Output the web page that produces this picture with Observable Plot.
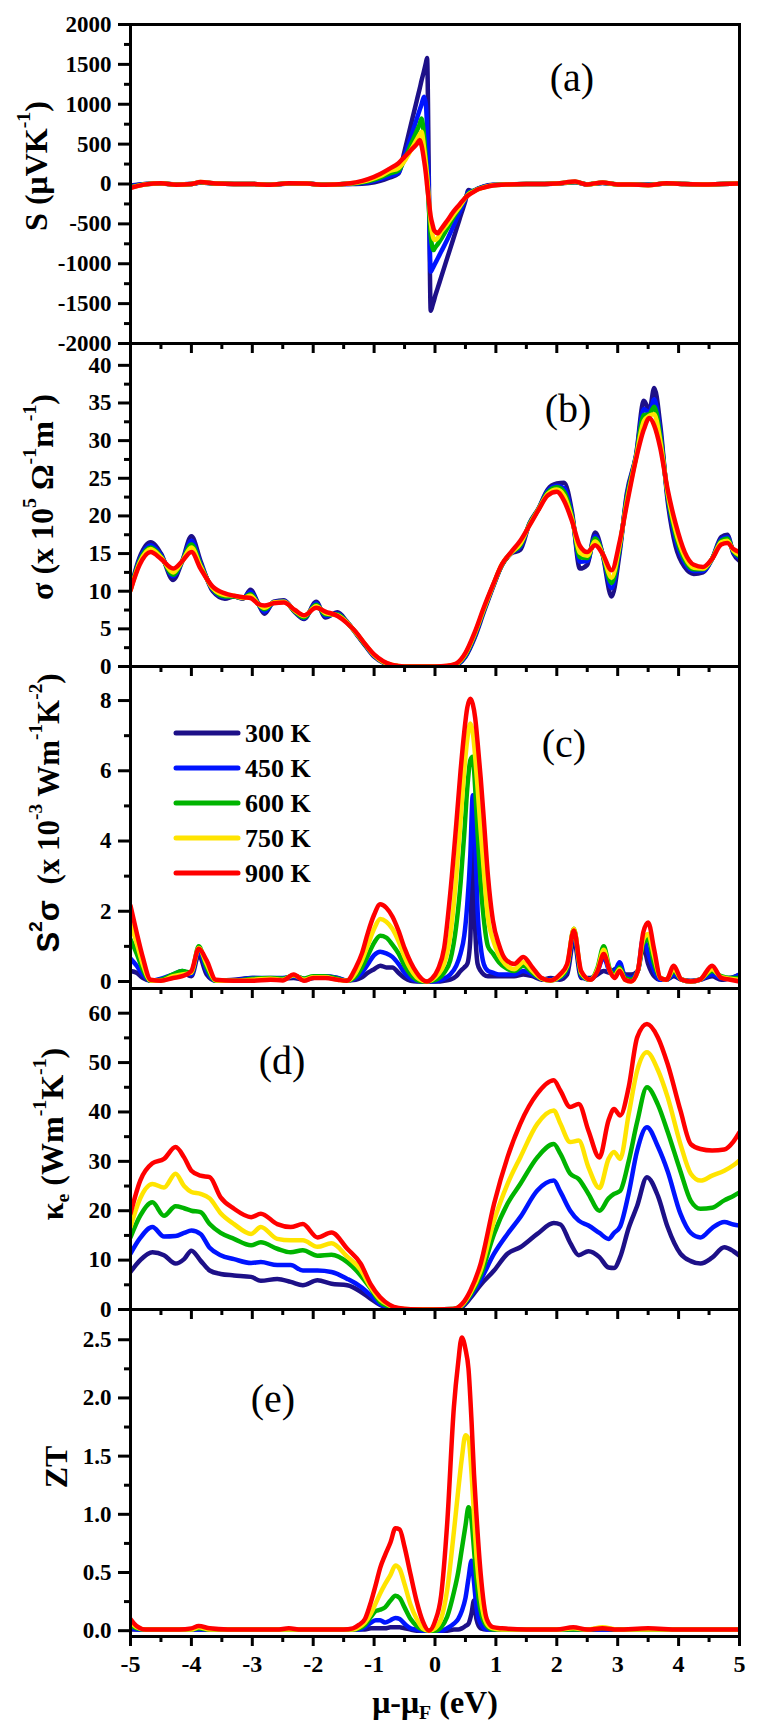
<!DOCTYPE html>
<html><head><meta charset="utf-8">
<script src="https://cdn.jsdelivr.net/npm/d3@7"></script>
<script src="https://cdn.jsdelivr.net/npm/@observablehq/plot@0.6"></script>
<style>
html,body{margin:0;padding:0;background:#fff;}
#chart{position:relative;width:761px;height:1730px;overflow:hidden;background:#fff;}
#chart svg{position:absolute;left:0;top:0;overflow:visible;background:transparent;}
</style></head><body><div id="chart"></div>
<script>
// ---------- series ----------
const temps = ["300 K","450 K","600 K","750 K","900 K"];
const colors = ["#1d1088","#0014ff","#00b400","#ffe400","#ff0000"];

// (a) Seebeck coefficient S (µV/K)
const xa = [-5,-4.75,-4.5,-4.25,-4,-3.85,-3.6,-3.3,-3,-2.7,-2.4,-2.1,-1.8,-1.5,-1.3,-1.1,-0.9,-0.75,-0.6,-0.5,-0.4,-0.3,-0.25,-0.22,-0.18,-0.15,-0.13,-0.1,-0.07,-0.04,-0.02,0,0.04,0.1,0.2,0.3,0.4,0.5,0.55,0.62,0.7,0.8,0.95,1.2,1.5,1.8,2,2.3,2.5,2.75,3,3.2,3.5,3.8,4.1,4.4,4.7,5];
const a300 = [-20,0,5,-5,0,18,5,0,0,-10,6,5,-10,0,0,10,
  40,80,130,414,730,1045,1200,1300,1420,1517,1580,0,-1590,-1520,-1470,-1412,-1315,-1171,-930,-689,-448,-207,-75,-95,-60,-30,
  -10,-5,0,0,5,22,-5,14,-5,-5,-8,5,0,-5,0,5];
const a450 = [-30,0,8,-6,0,20,5,0,0,-10,8,5,-10,0,5,20,
  60,100,140,349,582,815,932,1000,1095,1000,700,-200,-1100,-1060,-1030,-1000,-940,-850,-700,-530,-360,-180,-100,-85,-60,-35,
  -12,-5,0,0,5,24,-5,15,-5,-5,-10,6,0,-5,0,5];
const a600 = [-40,-2,10,-8,0,22,5,0,0,-10,10,5,-10,0,10,35,
  80,130,170,308,486,664,753,820,600,300,100,-300,-650,-800,-828,-800,-760,-690,-560,-420,-300,-170,-120,-90,-65,-40,
  -14,-5,0,0,5,26,-5,16,-5,-5,-12,8,0,-5,0,5];
const a750 = [-45,-3,10,-10,0,25,5,0,0,-10,10,5,-10,0,15,45,
  100,160,200,290,420,557,625,655,450,250,100,-200,-480,-640,-690,-702,-680,-600,-500,-390,-290,-175,-130,-100,-68,-42,
  -15,-5,0,0,5,28,-5,18,-5,-5,-15,10,0,-5,0,5];
const a900 = [-50,-5,10,-10,0,25,5,0,0,-10,10,5,-10,0,20,60,
  125,190,260,340,420,500,552,480,300,130,-20,-220,-410,-510,-570,-595,-618,-565,-460,-350,-260,-170,-140,-105,-70,-45,
  -18,-5,0,0,5,30,-5,20,-5,-5,-15,10,0,-5,0,5];

// (b) electrical conductivity sigma (x10^5 1/(Ohm m))
const xb = [-5,-4.85,-4.67,-4.5,-4.3,-4.15,-4,-3.85,-3.65,-3.45,-3.3,-3.15,-3.03,-2.9,-2.8,-2.65,-2.48,-2.3,-2.15,-1.95,-1.8,-1.6,-1.45,-1.3,-1.15,-1,-0.85,-0.7,-0.5,-0.3,0,0.2,0.35,0.5,0.65,0.8,0.95,1.1,1.25,1.4,1.55,1.7,1.85,2,2.12,2.25,2.38,2.5,2.63,2.75,2.9,3.03,3.15,3.3,3.43,3.52,3.6,3.7,3.82,3.95,4.1,4.25,4.4,4.55,4.7,4.8,4.9,5];
const b300 = [10.3,14.5,16.5,15.0,11.5, 14.0,17.3,14.0,10.0,9.0, 9.3,9.0,10.2,8.3,7.0, 8.6,8.8,7.2,6.3,8.6, 6.5,7.2,6.0,4.4,2.8, 1.3,0.5,0.1,0,0, 0,0,0.2,1.3,3.8, 7.2,10.5,13.5,15.0,15.5, 19.0,21.0,23.5,24.3,24.4, 20.5,13.0,13.5,17.8,15.0, 9.3,15.0,23.0,28.0,35.3, 34.0,37.0,32.0,22.0,16.0, 13.2,12.3,12.5,14.3,17.2, 17.5,15.0,14.0];
const b450 = [10.2,14.2,16.1,14.8,12.0, 14.0,16.7,13.7,10.2,9.2, 9.3,9.1,9.9,8.3,7.3, 8.5,8.7,7.3,6.4,8.4, 6.7,7.0,5.9,4.5,2.9, 1.4,0.6,0.1,0,0, 0,0.02,0.25,1.4,4.0, 7.4,10.6,13.5,15.1,15.9, 18.9,20.9,23.3,24.0,23.7, 20.1,13.9,14.0,17.3,15.0, 10.4,15.5,22.6,27.9,34.2, 33.7,35.5,31.1,22.5,16.9, 13.8,12.7,12.7,14.3,16.9, 17.2,15.2,14.4];
const b600 = [10.2,14.0,15.8,14.6,12.2, 14.0,16.2,13.5,10.3,9.3, 9.3,9.1,9.6,8.3,7.6, 8.5,8.6,7.3,6.5,8.2, 6.9,6.9,5.9,4.5,2.9, 1.5,0.6,0.15,0,0, 0,0.05,0.3,1.55,4.2, 7.5,10.7,13.5,15.1,16.1, 18.9,20.9,23.1,23.8,23.2, 19.9,14.5,14.4,17.0,15.0, 11.1,15.8,22.3,27.8,33.4, 33.5,34.5,30.5,22.8,17.5, 14.2,12.9,12.9,14.3,16.7, 17.0,15.3,14.6];
const b750 = [10.1,13.8,15.6,14.5,12.5, 14.0,15.8,13.3,10.4,9.5, 9.4,9.1,9.4,8.3,7.8, 8.5,8.6,7.4,6.7,8.0, 7.1,6.8,5.9,4.5,3.0, 1.5,0.6,0.2,0,0, 0,0.08,0.35,1.7,4.3, 7.6,10.7,13.6,15.1,16.3, 18.8,20.9,22.9,23.5,22.7, 19.6,15.1,14.7,16.6,15.0, 11.8,16.1,21.9,27.7,32.6, 33.3,33.5,29.9,23.1,18.1, 14.6,13.1,13.0,14.3,16.5, 16.7,15.4,14.8];
const b900 = [10.1,13.5,15.2,14.3,13.0, 14.0,15.2,13.0,10.6,9.7, 9.4,9.2,9.1,8.3,8.1, 8.4,8.5,7.5,6.8,7.8, 7.3,6.7,5.8,4.6,3.0, 1.6,0.7,0.2,0,0, 0,0.1,0.4,1.8,4.5, 7.8,10.8,13.6,15.2,16.7, 18.7,20.8,22.7,23.2,22.0, 19.3,16.0,15.2,16.1,15.0, 12.8,16.5,21.5,27.5,31.5, 33.0,32.0,29.0,23.5,19.0, 15.2,13.5,13.2,14.3,16.2, 16.4,15.6,15.2];

// (c) power factor S^2 sigma (x10^-3 W/(m K^2))
const xc = [-5,-4.9,-4.8,-4.67,-4.5,-4.3,-4.15,-4,-3.88,-3.75,-3.6,-3.3,-3,-2.7,-2.5,-2.32,-2.15,-2,-1.8,-1.6,-1.45,-1.3,-1.2,-1.1,-1,-0.9,-0.8,-0.7,-0.6,-0.5,-0.4,-0.3,-0.2,-0.13,-0.05,0.05,0.15,0.25,0.35,0.42,0.48,0.53,0.58,0.62,0.66,0.7,0.75,0.8,0.87,0.95,1.05,1.15,1.3,1.45,1.6,1.75,1.9,2.05,2.17,2.28,2.4,2.55,2.67,2.77,2.87,2.95,3.03,3.12,3.22,3.33,3.42,3.5,3.6,3.7,3.8,3.92,4.05,4.2,4.35,4.55,4.7,4.85,5];
const c300 = [0.3,0.25,0.1,0.02,0.05, 0.15,0.25,0.15,0.75,0.2, 0.02,0.05,0.1,0.08,0.08, 0.1,0.05,0.1,0.15,0.1, 0.03,0.05,0.12,0.25,0.35, 0.45,0.4,0.4,0.25,0.1, 0.02,0,0,0,0, 0,0.02,0.05,0.15,0.3, 0.4,0.5,1.2,3.9,1.5, 0.5,0.3,0.2,0.15,0.15, 0.15,0.15,0.15,0.2,0.15, 0.05,0.1,0.05,0.2,1.2, 0.1,0.1,0.2,0.3,0.25, 0.35,0.4,0.2,0.2,0.3, 1.0,0.5,0.15,0.05,0.05, 0.15,0.05,0.02,0.05,0.15, 0.05,0.1,0.2];
const c450 = [0.65,0.45,0.2,0.02,0.08, 0.2,0.3,0.2,0.9,0.3, 0.02,0.03,0.1,0.1,0.1, 0.15,0.08,0.12,0.15,0.1, 0.03,0.1,0.25,0.5,0.75, 0.85,0.8,0.7,0.5,0.25, 0.08,0.02,0,0,0, 0.02,0.08,0.2,0.45,0.8, 1.3,2.2,3.6,5.3,4.0, 2.0,1.0,0.5,0.3,0.25, 0.2,0.2,0.2,0.3,0.2, 0.08,0.05,0.1,0.35,1.35, 0.15,0.05,0.3,0.7,0.3, 0.3,0.55,0.15,0.1,0.3, 1.25,0.8,0.3,0.05,0.05, 0.2,0.05,0,0.05,0.2, 0.1,0.1,0.2];
const c600 = [1.2,0.8,0.35,0.02,0.05, 0.2,0.3,0.25,1.0,0.4, 0.02,0.02,0.08,0.1,0.08, 0.17,0.08,0.15,0.15,0.08, 0.02,0.15,0.4,0.75,1.1, 1.3,1.25,1.05,0.8,0.45, 0.2,0.05,0,0,0.02, 0.08,0.25,0.6,1.6,2.8, 4.2,5.5,6.3,6.4,5.5, 4.2,2.8,1.8,1.0,0.8, 0.55,0.4,0.3,0.45,0.25, 0.08,0.03,0.12,0.4,1.5, 0.2,0.05,0.4,1.0,0.35, 0.2,0.4,0.1,0.05,0.3, 1.1,1.2,0.5,0.1,0.05, 0.3,0.05,0,0.05,0.3, 0.15,0.1,0.1];
const c750 = [1.65,1.1,0.5,0.03,0.02, 0.15,0.2,0.25,0.95,0.5, 0.03,0.02,0.05,0.08,0.05, 0.18,0.05,0.12,0.12,0.05, 0.02,0.25,0.6,1.05,1.5, 1.78,1.7,1.5,1.15,0.7, 0.35,0.12,0.02,0,0.05, 0.2,0.5,1.3,3.0,4.6, 6.0,6.9,7.35,7.1,6.4, 5.5,4.3,3.2,1.8,1.2, 0.75,0.5,0.35,0.55,0.3, 0.08,0.03,0.15,0.45,1.5, 0.25,0.05,0.35,0.9,0.3, 0.15,0.35,0.05,0,0.3, 1.2,1.35,0.7,0.1,0.05, 0.35,0.05,0,0.05,0.35, 0.12,0.08,0.05];
const c900 = [2.16,1.4,0.7,0.05,0.02, 0.1,0.15,0.3,0.93,0.6, 0.05,0.02,0.02,0.05,0.03, 0.2,0.02,0.1,0.1,0.05, 0.02,0.4,0.8,1.4,1.9, 2.2,2.1,1.85,1.45,0.95, 0.55,0.25,0.05,0,0.08, 0.35,0.95,2.5,4.5,6.0, 7.1,7.8,8.05,7.9,7.5, 6.8,5.8,4.66,3.0,1.75, 1.05,0.65,0.5,0.7,0.4, 0.1,0.03,0.2,0.5,1.45, 0.3,0.05,0.3,0.78,0.3, 0.1,0.3,0.05,0,0.3, 1.4,1.68,0.9,0.1,0.05, 0.45,0.05,0,0.05,0.45, 0.1,0.05,0];

// (d) electronic thermal conductivity kappa_e (W/(m K))
const xd = [-5,-4.84,-4.64,-4.45,-4.26,-4.12,-4,-3.85,-3.7,-3.52,-3.3,-3.02,-2.86,-2.59,-2.37,-2.17,-1.93,-1.7,-1.44,-1.22,-1.06,-0.9,-0.75,-0.6,-0.4,0,0.3,0.45,0.58,0.75,0.97,1.19,1.4,1.68,1.95,2.06,2.22,2.36,2.52,2.7,2.85,2.94,3.04,3.18,3.32,3.48,3.66,3.82,4.03,4.2,4.36,4.55,4.75,4.9,5];
const d300 = [7.6,10.0,11.6,11.0,9.3, 10.2,11.9,9.9,7.9,7.2, 6.9,6.6,5.8,6.2,5.6, 4.9,5.9,5.2,4.9,3.6, 2.2,0.9,0.3,0.05,0, 0,0.05,0.6,2.3,5.0, 7.9,11.3,12.6,15.3,17.5, 17.2,13.5,11.0,11.8,10.6, 8.5,8.4,10.6,16.5,21.0, 26.8,23.0,16.7,11.3,9.8, 9.3,10.5,12.6,11.8,10.9];
const d450 = [11.3,14.5,16.7,14.8,14.9, 15.5,16.0,15.3,12.5,11.0, 10.2,9.4,9.6,9.0,9.0, 7.9,7.9,7.6,6.2,4.6, 2.9,1.1,0.4,0.1,0.02, 0,0.08,0.8,2.7,6.0, 11.3,15.3,18.7,24.1,26.1, 23.8,20.0,18.0,17.0,15.5, 14.3,15.5,16.8,23.5,32.2, 36.9,33.0,28.0,19.4,15.5, 14.6,16.5,17.7,17.2,17.0];
const d600 = [14.6,19.0,21.7,19.0,20.9, 20.5,20.0,19.7,17.3,15.5, 14.3,13.0,13.6,12.3,11.6, 12.0,10.9,11.1,9.6,6.9, 4.3,1.5,0.6,0.15,0.02, 0,0.1,0.9,3.0,7.0, 15.3,21.4,25.4,30.8,33.5, 31.5,27.5,26.4,23.4,20.0, 22.5,23.4,24.0,30.0,38.0, 45.0,41.5,36.0,28.0,22.0, 20.4,20.6,22.1,23.0,23.7];
const d750 = [16.7,22.5,25.4,24.7,27.5, 25.0,23.8,23.4,22.5,19.5, 17.3,15.3,16.7,14.3,14.0, 14.0,12.7,13.4,10.7,8.0, 4.6,2.0,0.8,0.2,0.03, 0,0.1,1.0,3.3,7.9, 18.0,25.4,30.8,37.6,40.3, 37.6,33.9,34.2,28.8,24.6, 30.5,31.9,30.5,39.5,48.4, 52.1,48.5,43.0,33.5,27.5, 26.1,27.1,28.1,29.2,30.2];
const d900 = [19.4,26.1,29.6,30.5,32.9, 30.8,28.1,27.1,26.8,22.7, 20.4,18.7,19.4,17.3,16.7, 17.3,14.6,15.6,12.3,9.3, 5.2,2.5,1.0,0.3,0.05, 0,0.1,1.2,3.8,9.3, 21.4,30.8,37.6,43.7,46.4, 44.3,41.0,41.6,36.2,30.8, 38.3,40.6,39.3,45.0,55.1, 57.8,55.1,49.7,40.3,33.5, 32.5,32.2,32.4,34.0,35.9];

// (e) figure of merit ZT
const xe = [-5,-4.9,-4.75,-4.5,-4.2,-4,-3.88,-3.7,-3.4,-3,-2.6,-2.4,-2.2,-1.8,-1.5,-1.35,-1.25,-1.15,-1.05,-0.97,-0.9,-0.82,-0.73,-0.65,-0.58,-0.5,-0.4,-0.3,-0.2,-0.1,0,0.1,0.2,0.31,0.38,0.44,0.5,0.55,0.6,0.64,0.68,0.75,0.85,0.95,1.1,1.5,2,2.27,2.5,2.75,3,3.5,4,4.5,5];
const e300 = [0.01,0.01,0.01,0.01,0.01, 0.01,0.01,0.01,0.01,0.01, 0.01,0.01,0.01,0.01,0.01, 0.01,0.01,0.01,0.02,0.02, 0.02,0.02,0.03,0.03,0.03, 0.02,0.01,0,0,0, 0,0,0,0.01,0.01, 0.02,0.04,0.06,0.15,0.26, 0.1,0.02,0.01,0.01,0.01, 0.01,0.01,0.01,0.01,0.01, 0.01,0.01,0.01,0.01,0.01];
const e450 = [0.03,0.01,0.01,0.01,0.01, 0.01,0.01,0.01,0.01,0.01, 0.01,0.01,0.01,0.01,0.01, 0.01,0.01,0.03,0.07,0.09, 0.09,0.07,0.09,0.11,0.1, 0.06,0.02,0.01,0,0, 0,0,0.02,0.06,0.1, 0.17,0.28,0.45,0.6,0.42, 0.2,0.06,0.01,0.01,0.01, 0.01,0.01,0.01,0.01,0.01, 0.01,0.01,0.01,0.01,0.01];
const e600 = [0.05,0.02,0.01,0.01,0.01, 0.01,0.02,0.01,0.01,0.01, 0.01,0.01,0.01,0.01,0.01, 0.01,0.02,0.05,0.12,0.17, 0.18,0.2,0.26,0.3,0.28, 0.2,0.1,0.04,0.01,0, 0,0.03,0.12,0.33,0.5, 0.7,0.9,1.06,0.95,0.7, 0.45,0.17,0.04,0.01,0.01, 0.01,0.01,0.01,0.01,0.02, 0.01,0.01,0.01,0.01,0.01];
const e750 = [0.07,0.03,0.01,0.01,0.01, 0.01,0.03,0.01,0.01,0.01, 0.01,0.01,0.01,0.01,0.01, 0.01,0.03,0.07,0.15,0.24, 0.32,0.4,0.48,0.56,0.53, 0.4,0.22,0.1,0.02,0, 0.02,0.1,0.35,0.85,1.2, 1.48,1.68,1.65,1.35,1.0, 0.65,0.28,0.06,0.02,0.01, 0.01,0.01,0.02,0.01,0.03, 0.01,0.01,0.01,0.01,0.01];
const e900 = [0.10,0.04,0.01,0.01,0.01, 0.02,0.04,0.02,0.01,0.01, 0.01,0.02,0.01,0.01,0.01, 0.02,0.05,0.1,0.25,0.4, 0.54,0.65,0.76,0.88,0.87, 0.72,0.48,0.25,0.08,0, 0.08,0.3,0.92,1.92,2.3, 2.52,2.42,2.25,1.8,1.35, 1.0,0.49,0.1,0.03,0.02, 0.01,0.01,0.03,0.01,0.02, 0.01,0.02,0.01,0.01,0.01];

// ---------- ticks ----------
const xMajor = [-5,-4,-3,-2,-1,0,1,2,3,4,5];
const xMinor = [-4.5,-3.5,-2.5,-1.5,-0.5,0.5,1.5,2.5,3.5,4.5];
const aMajor = [-2000,-1500,-1000,-500,0,500,1000,1500,2000];
const aMinor = [-1750,-1250,-750,-250,250,750,1250,1750];
const bMajor = [0,5,10,15,20,25,30,35,40];
const bMinor = [2.5,7.5,12.5,17.5,22.5,27.5,32.5,37.5];
const cMajor = [0,2,4,6,8];
const cMinor = [1,3,5,7];
const dMajor = [0,10,20,30,40,50,60];
const dMinor = [5,15,25,35,45,55];
const eMajor = [0,0.5,1,1.5,2,2.5];
const eMinor = [0.25,0.75,1.25,1.75,2.25];

// ---------- layout ----------
const W = 761, H = 1730, LEFT = 130, RIGHT = 739;
const SERIF = "'Liberation Serif', serif";
const SANS = "'Liberation Sans', sans-serif";
const chart = document.getElementById("chart");

function panel({xs, series, yDomain, top, bottom, majors, minors, fmt, showX}) {
  const data = [];
  series.forEach((ys, k) => ys.forEach((v, i) => data.push({x: xs[i], y: v, T: temps[k]})));
  const blank = () => "";
  const svg = Plot.plot({
    width: W, height: H,
    marginLeft: LEFT, marginRight: W - RIGHT, marginTop: top, marginBottom: H - bottom,
    x: {domain: [-5, 5], axis: null},
    y: {domain: yDomain, axis: null},
    color: {domain: temps, range: colors},
    style: {background: "transparent", overflow: "visible"},
    marks: [
      Plot.line(data, {x: "x", y: "y", z: "T", stroke: "T", strokeWidth: 4.5, curve: "monotone-x", clip: true, strokeLinejoin: "round", strokeLinecap: "round"}),
      Plot.frame({stroke: "#000", strokeWidth: 3}),
      Plot.axisY({ticks: majors, tickSize: 12, tickPadding: 7, tickFormat: fmt, strokeWidth: 3, fontSize: 23, fontWeight: "bold", fontFamily: SERIF, label: null}),
      Plot.axisY({ticks: minors, tickSize: 6, tickFormat: blank, strokeWidth: 3, label: null}),
      Plot.axisX({ticks: xMajor, tickSize: 10, tickPadding: 8, tickFormat: showX ? (d => String(d)) : blank, strokeWidth: 3, fontSize: 24, fontWeight: "bold", fontFamily: SERIF, label: null}),
      Plot.axisX({ticks: xMinor, tickSize: 6, tickFormat: blank, strokeWidth: 3, label: null})
    ]
  });
  chart.appendChild(svg);
  return d3.select(svg);
}

function richText(sel, x, y, rotate, parts, size, opts = {}) {
  const t = sel.append("text")
    .attr("transform", `translate(${x},${y})` + (rotate ? " rotate(-90)" : ""))
    .attr("text-anchor", "middle")
    .attr("dominant-baseline", "central")
    .attr("font-family", opts.family || SERIF)
    .attr("font-weight", opts.weight || "bold")
    .attr("font-size", size)
    .attr("fill", "#000");
  let shift = 0;
  parts.forEach(p => {
    const target = p.sup ? -0.42 * size : p.sub ? 0.3 * size : 0;
    const ts = t.append("tspan").text(p.t).attr("dy", target - shift);
    if (p.sup || p.sub) ts.attr("font-size", 0.62 * size);
    if (p.ff) ts.attr("font-family", p.ff);
    shift = target;
  });
  return t;
}

function tag(sel, x, y, s) {
  sel.append("text").attr("x", x).attr("y", y).attr("text-anchor", "middle").attr("dominant-baseline", "central")
    .attr("font-family", SERIF).attr("font-weight", "normal").attr("font-size", 40).attr("fill", "#000").text(s);
}

// (a)
const pa = panel({xs: xa, series: [a300,a450,a600,a750,a900], yDomain: [-2000, 2000], top: 24, bottom: 343, majors: aMajor, minors: aMinor, fmt: d => String(d)});
richText(pa, 36, 166, true, [{t: "S (\u03bcVK"}, {t: "-1", sup: true}, {t: ")"}], 32);
tag(pa, 572, 77, "(a)");

// (b)
const pb = panel({xs: xb, series: [b300,b450,b600,b750,b900], yDomain: [0, 42.9], top: 343, bottom: 666, majors: bMajor, minors: bMinor, fmt: d => String(d)});
richText(pb, 42, 497, true, [{t: "\u03c3 (x 10"}, {t: "5", sup: true}, {t: " \u03a9"}, {t: "-1", sup: true}, {t: "m"}, {t: "-1", sup: true}, {t: ")"}], 32);
tag(pb, 568, 408, "(b)");

// (c)
const pc = panel({xs: xc, series: [c300,c450,c600,c750,c900], yDomain: [-0.2, 8.97], top: 666, bottom: 988, majors: cMajor, minors: cMinor, fmt: d => String(d)});
richText(pc, 48, 813, true, [{t: "S", ff: SANS}, {t: "2", sup: true, ff: SANS}, {t: "\u03c3", ff: SANS}, {t: "  (x 10"}, {t: "-3", sup: true}, {t: " Wm"}, {t: "-1", sup: true}, {t: "K"}, {t: "-2", sup: true}, {t: ")"}], 31);
tag(pc, 564, 743, "(c)");
const legY = [733, 768, 803, 838, 873];
temps.forEach((name, i) => {
  pc.append("line").attr("x1", 176).attr("x2", 238).attr("y1", legY[i]).attr("y2", legY[i])
    .attr("stroke", colors[i]).attr("stroke-width", 5).attr("stroke-linecap", "round");
  pc.append("text").attr("x", 245).attr("y", legY[i]).attr("text-anchor", "start").attr("dominant-baseline", "central")
    .attr("font-family", SERIF).attr("font-weight", "bold").attr("font-size", 26).attr("fill", "#000").text(name);
});

// (d)
const pd = panel({xs: xd, series: [d300,d450,d600,d750,d900], yDomain: [0, 65], top: 988, bottom: 1309, majors: dMajor, minors: dMinor, fmt: d => String(d)});
richText(pd, 52, 1134, true, [{t: "\u03ba"}, {t: "e", sub: true}, {t: " (Wm"}, {t: "-1", sup: true}, {t: "K"}, {t: "-1", sup: true}, {t: ")"}], 32);
tag(pd, 282, 1060, "(d)");

// (e)
const pe = panel({xs: xe, series: [e300,e450,e600,e750,e900], yDomain: [-0.05, 2.76], top: 1309, bottom: 1636, majors: eMajor, minors: eMinor, fmt: d => d.toFixed(1), showX: true});
richText(pe, 56, 1467, true, [{t: "ZT"}], 32);
tag(pe, 273, 1398, "(e)");
richText(pe, 435, 1702, false, [{t: "\u03bc-\u03bc"}, {t: "F", sub: true}, {t: " (eV)"}], 32);
</script>
</body></html>
